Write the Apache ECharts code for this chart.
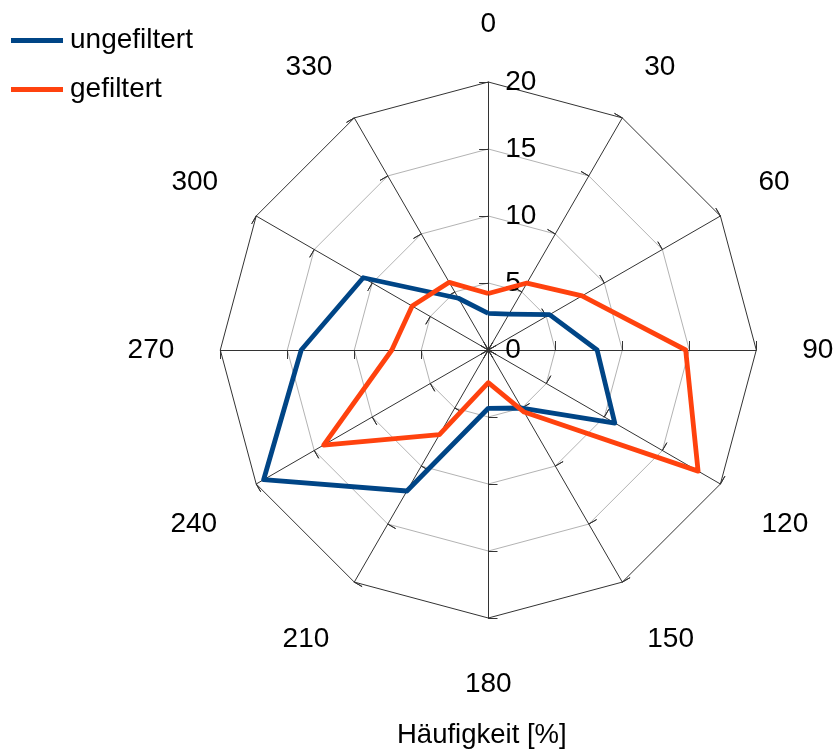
<!DOCTYPE html>
<html>
<head>
<meta charset="utf-8">
<script src="https://cdn.jsdelivr.net/npm/echarts@6/dist/echarts.min.js"></script>
<style>
html,body{margin:0;padding:0;background:#fff;}
#chart{width:835px;height:751px;}
</style>
</head>
<body>
<div id="chart"></div>
<script>
// Directions (degrees), clockwise from top
const directions = ['0','30','60','90','120','150','180','210','240','270','300','330'];
// Häufigkeit [%]
const ungefiltert = [2.73, 3.1, 5.28, 8.12, 10.9, 5.0, 4.35, 12.15, 19.36, 13.96, 10.78, 4.46];
const gefiltert   = [4.22, 5.77, 8.08, 14.73, 18.08, 5.35, 2.44, 7.3, 14.19, 7.2, 6.56, 5.83];
const radialTicks = [0, 5, 10, 15, 20];
const seriesNames = ['ungefiltert', 'gefiltert'];
const axisTitle = 'Häufigkeit [%]';

// ECharts radar lays indicators out counter-clockwise; reorder for clockwise
const order = directions.map((d, i) => (directions.length - i) % directions.length);
const indicators = order.map(i => ({ name: directions[i], min: radialTicks[0], max: radialTicks[radialTicks.length - 1] }));
const reorder = arr => order.map(i => arr[i]);

// label style key per direction name
const nameStyle = {
  '0': 'n0', '30': 'u1', '330': 'u1', '60': 'u2', '300': 'u2',
  '90': 'r', '270': 'l', '120': 'd1', '240': 'd1b', '150': 'd2', '210': 'd2b', '180': 'd0'
};

const FONT = 'Liberation Sans';
const FS = 28;
const CX = 488.3, CY = 350, R = 268;
const base = { fontSize: FS, fontFamily: FONT, color: '#000' };

const chart = echarts.init(document.getElementById('chart'));
chart.setOption({
  animation: false,
  backgroundColor: '#fff',
  textStyle: { fontFamily: FONT },
  title: {
    text: axisTitle,
    left: 392, top: 716,
    textStyle: { fontFamily: FONT, fontSize: 27.5, fontWeight: 'normal', color: '#000' }
  },
  legend: {
    orient: 'vertical',
    left: 6, top: 20,
    itemWidth: 52, itemHeight: 5,
    itemGap: 18,
    icon: 'rect',
    data: seriesNames,
    textStyle: { fontFamily: FONT, fontSize: FS, color: '#000', lineHeight: 28, padding: [3,0,0,2] }
  },
  radar: [{
    center: [CX, CY],
    radius: R,
    shape: 'polygon',
    splitNumber: 4,
    indicator: indicators,
    axisName: {
      color: '#000', fontSize: FS, fontFamily: FONT,
      formatter: function (name) { return '{' + nameStyle[name] + '|' + name + '}'; },
      rich: {
        n0: Object.assign({}, base),
        u1: Object.assign({ padding: [0, 0, 26, 0] }, base),
        u2: Object.assign({ padding: [0, 0, 24, 0] }, base),
        r:  Object.assign({ padding: [0, 0, 0, 2] }, base),
        l:  Object.assign({ padding: [0, 2, 0, 0] }, base),
        d1: Object.assign({ padding: [37, 0, 0, 3] }, base),
        d1b: Object.assign({ padding: [37, 1, 0, 0] }, base),
        d2: Object.assign({ padding: [39, 0, 0, 3] }, base),
        d2b: Object.assign({ padding: [39, 3, 0, 0] }, base),
        d0: Object.assign({ padding: [8, 0, 0, 0] }, base)
      }
    },
    nameGap: 44,
    axisLine: { lineStyle: { color: '#333', width: 1 } },
    axisTick: { show: true, inside: false, length: 9, lineStyle: { color: '#333', width: 1 } },
    axisLabel: { show: false },
    splitLine: { lineStyle: { color: ['#b3b3b3', '#b3b3b3', '#b3b3b3', '#b3b3b3', '#333'], width: 1 } },
    splitArea: { show: false }
  }, {
    center: [CX, CY],
    radius: R,
    shape: 'polygon',
    splitNumber: 4,
    indicator: indicators,
    axisName: { show: false },
    axisLine: { show: false },
    axisTick: { show: true, inside: true, length: 9, lineStyle: { color: '#333', width: 1 } },
    axisLabel: { show: false },
    splitLine: { show: false },
    splitArea: { show: false }
  }],
  grid: { left: CX, top: CY - R, width: 1, height: R },
  xAxis: { type: 'value', show: false },
  yAxis: {
    type: 'value', min: 0, max: 20, interval: 5, position: 'left',
    axisLine: { show: false }, axisTick: { show: false }, splitLine: { show: false },
    axisLabel: { inside: true, margin: 17, fontSize: FS, fontFamily: FONT, color: '#000' }
  },
  series: [{
    type: 'radar',
    radarIndex: 0,
    symbol: 'none',
    data: [
      { name: seriesNames[0], value: reorder(ungefiltert), lineStyle: { color: '#004586', width: 4.8 }, itemStyle: { color: '#004586' } },
      { name: seriesNames[1], value: reorder(gefiltert), lineStyle: { color: '#ff420e', width: 4.8 }, itemStyle: { color: '#ff420e' } }
    ]
  }]
});
</script>
</body>
</html>
